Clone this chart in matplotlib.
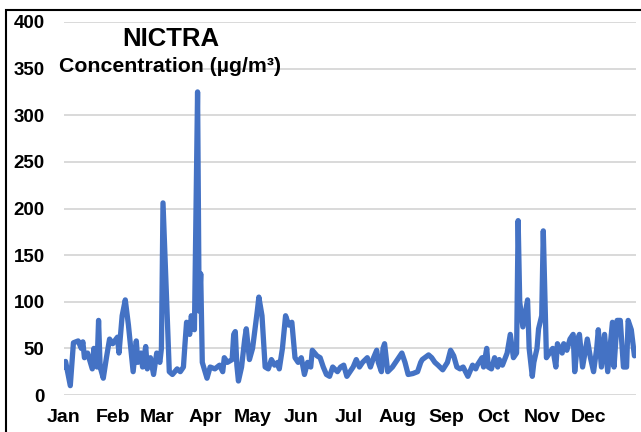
import matplotlib
matplotlib.use("Agg")
import matplotlib.pyplot as plt
import matplotlib.patches as mpatches

# Day of year (0 = 1 Jan) and NICTRA concentration
DAYS = [0, 1, 4, 6, 9, 11, 12, 13, 15, 18, 19, 21, 22, 23, 25, 27, 29, 31, 34, 35,
        37, 39, 41, 44, 46, 47, 49, 50, 52, 53, 55, 57, 59, 61, 62, 63, 67, 69, 72, 74,
        76, 77, 78, 80, 81, 83, 85, 86, 87, 88, 91, 93, 96, 99, 101, 102, 104, 107, 108, 109,
        110, 111, 113, 115, 116, 118, 120, 123, 124, 126, 128, 130, 132, 134, 136, 137, 139, 141, 143, 145,
        147, 149, 151, 153, 155, 157, 158, 161, 163, 165, 167, 169, 171, 174, 176, 178, 180, 182, 184, 186,
        188, 190, 193, 195, 197, 199, 200, 202, 203, 204, 206, 209, 211, 213, 215, 217, 219, 222, 225, 227,
        228, 232, 234, 236, 238, 241, 244, 246, 248, 250, 252, 254, 257, 260, 262, 263, 266, 267, 269, 270,
        272, 274, 276, 277, 279, 282, 284, 286, 288, 289, 290, 292, 295, 296, 298, 299, 301, 302, 304, 305,
        307, 309, 311, 313, 314, 317, 318, 320, 322, 324, 325, 327, 328, 330, 333, 335, 337, 339, 340, 342,
        344, 346, 349, 350, 352, 354, 356, 358, 359, 361, 363]
CONC = [30, 36, 10, 56, 58, 50, 57, 40, 45, 28, 50, 30, 80, 30, 18, 40, 60, 55, 62, 45,
        85, 102, 75, 25, 58, 35, 45, 30, 52, 28, 40, 22, 45, 35, 50, 206, 25, 22, 28, 25,
        30, 55, 78, 65, 85, 70, 325, 90, 130, 35, 18, 30, 28, 32, 25, 40, 35, 38, 65, 68,
        32, 15, 30, 60, 71, 38, 50, 90, 105, 85, 30, 28, 38, 32, 35, 28, 50, 85, 75, 78,
        40, 35, 40, 22, 35, 30, 48, 42, 40, 30, 22, 20, 30, 25, 30, 32, 20, 25, 30, 38,
        30, 35, 40, 30, 40, 48, 35, 25, 50, 55, 25, 30, 35, 40, 45, 35, 22, 23, 25, 35,
        38, 43, 40, 35, 32, 27, 35, 48, 42, 30, 28, 30, 20, 32, 28, 32, 40, 30, 50, 30,
        28, 40, 30, 38, 32, 45, 65, 40, 45, 187, 100, 73, 102, 50, 20, 35, 50, 71, 85, 176,
        40, 45, 50, 30, 55, 45, 55, 48, 60, 65, 25, 60, 65, 30, 60, 40, 25, 50, 70, 30,
        65, 25, 78, 30, 80, 80, 30, 30, 80, 70, 42]

MONTH_START = [0, 31, 59, 90, 120, 151, 181, 212, 243, 273, 304, 334]
MONTHS = ["Jan", "Feb", "Mar", "Apr", "May", "Jun",
          "Jul", "Aug", "Sep", "Oct", "Nov", "Dec"]
Y_TICKS = [0, 50, 100, 150, 200, 250, 300, 350, 400]

FONT = ["Liberation Sans", "DejaVu Sans"]
plt.rcParams["font.family"] = FONT

fig = plt.figure(figsize=(6.41, 4.32), dpi=100)
ax = fig.add_axes([64 / 641, 37 / 432, 572 / 641, 373 / 432])

ax.plot(DAYS, CONC, color="#4472C4", linewidth=3.8,
        solid_joinstyle="round", solid_capstyle="round", zorder=3)

# ── Axes ────────────────────────────────────────────────────────────────────
ax.set_xlim(0, 364)
ax.set_ylim(0, 400)
ax.set_yticks(Y_TICKS)
ax.set_xticks(MONTH_START)
ax.set_xticklabels(MONTHS)
ax.tick_params(axis="both", length=0)
ax.tick_params(axis="y", pad=14, labelsize=13.5)
ax.tick_params(axis="x", pad=10, labelsize=14)
for lbl in ax.get_xticklabels() + ax.get_yticklabels():
    lbl.set_fontweight("bold")

ax.grid(axis="y", color="#D9D9D9", linewidth=1.4, zorder=0)
ax.set_axisbelow(True)
for spine in ax.spines.values():
    spine.set_visible(False)

# ── Titles ──────────────────────────────────────────────────────────────────
fig.text(171 / 641, 1 - 39 / 432, "NICTRA", fontsize=18.5, fontweight="bold",
         ha="center", va="center")
fig.text(170 / 641, 1 - 67 / 432, "Concentration (µg/m³)", fontsize=15.3,
         fontweight="bold", ha="center", va="center")

# ── Outer frame ─────────────────────────────────────────────────────────────
frame = mpatches.Rectangle((5.5 / 641, -0.1), 1.2, 1.1 - 10.5 / 432,
                           transform=fig.transFigure, fill=False,
                           edgecolor="black", linewidth=1.5, clip_on=False)
fig.patches.append(frame)

fig.savefig("out.png", dpi=100)
plt.close(fig)
